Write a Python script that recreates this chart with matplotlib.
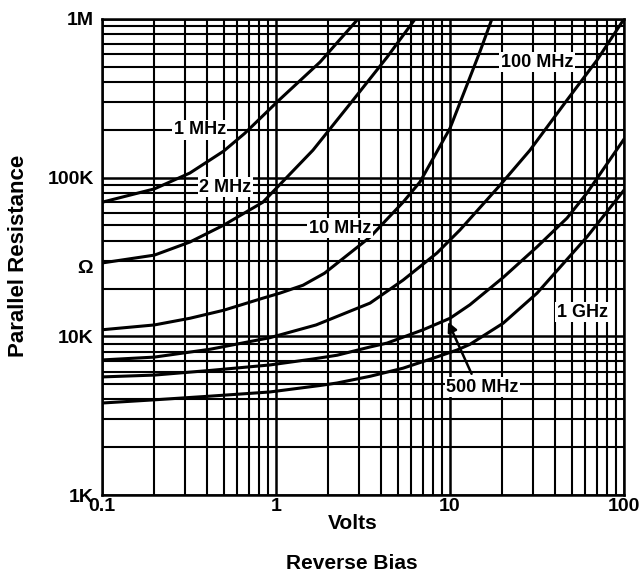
import numpy as np
import matplotlib
matplotlib.use("Agg")
import matplotlib.pyplot as plt
from matplotlib.ticker import LogLocator, NullFormatter

plt.rcParams['font.family'] = ['Liberation Sans', 'DejaVu Sans']
plt.rcParams['font.weight'] = 'bold'

# curves: volts, ohms
v_1mhz = [0.1, 0.2, 0.32, 0.5, 0.66, 1.04, 1.79, 2.96]
r_1mhz = [70e3, 85e3, 107e3, 147e3, 190e3, 308e3, 535e3, 1.0e6]

v_2mhz = [0.1, 0.2, 0.32, 0.5, 0.84, 1.63, 2.77, 4.35, 6.3]
r_2mhz = [29e3, 32.5e3, 39.3e3, 50.2e3, 70e3, 149e3, 308e3, 575e3, 1.0e6]

v_10mhz = [0.1, 0.2, 0.32, 0.5, 0.84, 1.05, 1.43, 1.9, 3.47, 5.37, 6.72, 10,
           12.5, 14.9, 17.4]
r_10mhz = [11e3, 11.8e3, 13e3, 14.6e3, 17.4e3, 18.7e3, 21e3, 25e3, 42.2e3,
           70e3, 94e3, 205e3, 383e3, 628e3, 1.0e6]

v_100mhz = [0.1, 0.2, 0.42, 0.92, 1.7, 3.47, 5.37, 8.41, 11.4, 19.4, 28.8,
            47, 70, 100]
r_100mhz = [7.1e3, 7.4e3, 8.3e3, 9.8e3, 11.8e3, 16.2e3, 22.6e3, 33.5e3,
            46.8e3, 89.8e3, 149e3, 308e3, 551e3, 1.0e6]

v_500mhz = [0.1, 0.2, 0.42, 0.92, 1.63, 2.24, 3.47, 4.35, 7.0, 10, 13, 20.2,
            31.6, 47, 61.2, 100]
r_500mhz = [5.55e3, 5.7e3, 6.1e3, 6.6e3, 7.2e3, 7.6e3, 8.57e3, 9.07e3,
            11.0e3, 13.0e3, 15.8e3, 23.5e3, 36.6e3, 55.6e3, 80e3, 175e3]

v_1ghz = [0.1, 0.2, 0.42, 0.92, 1.79, 2.24, 3.47, 5.37, 8.41, 10.97, 13.0,
          20.2, 31.6, 61.2, 100]
r_1ghz = [3.8e3, 3.98e3, 4.2e3, 4.46e3, 4.9e3, 5.08e3, 5.6e3, 6.3e3,
          7.42e3, 8.2e3, 8.9e3, 12.1e3, 18.7e3, 42.3e3, 83.5e3]

x_ticks = [0.1, 1, 10, 100]
x_ticklabels = ['0.1', '1', '10', '100']
y_ticks = [1e3, 1e4, 1e5, 1e6]
y_ticklabels = ['1K', '10K', '100K', '1M']


def main():
    fig = plt.figure(figsize=(6.44, 5.74), dpi=100)
    ax = fig.add_axes([0.1584, 0.1376, 0.8106, 0.8293])
    ax.set_xscale('log')
    ax.set_yscale('log')
    ax.set_xlim(0.1, 100)
    ax.set_ylim(1e3, 1e6)

    # datasheet style grid: heavy black everywhere
    ax.xaxis.set_minor_locator(LogLocator(base=10, subs=np.arange(2, 10)))
    ax.yaxis.set_minor_locator(LogLocator(base=10, subs=np.arange(2, 10)))
    ax.xaxis.set_minor_formatter(NullFormatter())
    ax.yaxis.set_minor_formatter(NullFormatter())
    ax.grid(which='major', color='black', lw=1.8)
    ax.grid(which='minor', color='black', lw=1.5)
    ax.tick_params(which='both', length=0)
    for sp in ax.spines.values():
        sp.set_linewidth(1.8)

    ax.set_xticks(x_ticks)
    ax.set_xticklabels(x_ticklabels, fontsize=14, fontweight='bold')
    ax.set_yticks(y_ticks)
    ax.set_yticklabels(y_ticklabels, fontsize=14, fontweight='bold')
    ax.tick_params(axis='x', pad=2)
    ax.tick_params(axis='y', pad=6)

    for v, r in [(v_1mhz, r_1mhz), (v_2mhz, r_2mhz), (v_10mhz, r_10mhz),
                 (v_100mhz, r_100mhz), (v_500mhz, r_500mhz), (v_1ghz, r_1ghz)]:
        ax.plot(v, r, color='black', lw=2.2, solid_capstyle='round',
                solid_joinstyle='round')

    box = dict(facecolor='white', edgecolor='none', pad=1.0)
    lab = dict(fontsize=13, fontweight='bold', ha='center', va='center',
               bbox=box, zorder=4)
    ax.text(0.365, 200e3, '1 MHz', **lab)
    ax.text(0.51, 87e3, '2 MHz', **lab)
    ax.text(2.33, 48e3, '10 MHz', **lab)
    ax.text(31.6, 535e3, '100 MHz', **lab)
    ax.text(57.4, 14.2e3, '1 GHz', **lab)
    ax.text(15.3, 4.79e3, '500 MHz', **lab)
    ax.annotate('', xy=(9.6, 12.8e3), xytext=(13.5, 5.6e3),
                arrowprops=dict(arrowstyle='-|>', lw=1.8, color='black',
                                mutation_scale=14), zorder=4)

    fig.text(0.547, 0.088, 'Volts', fontsize=15, fontweight='bold',
             ha='center', va='center')
    fig.text(0.547, 0.019, 'Reverse Bias', fontsize=15, fontweight='bold',
             ha='center', va='center')
    fig.text(0.028, 0.555, 'Parallel Resistance', fontsize=16,
             fontweight='bold', rotation=90, ha='center', va='center')
    fig.text(0.132, 0.533, 'Ω', fontsize=14, fontweight='bold',
             ha='center', va='center')

    fig.savefig('out.png', dpi=100)


if __name__ == '__main__':
    main()
